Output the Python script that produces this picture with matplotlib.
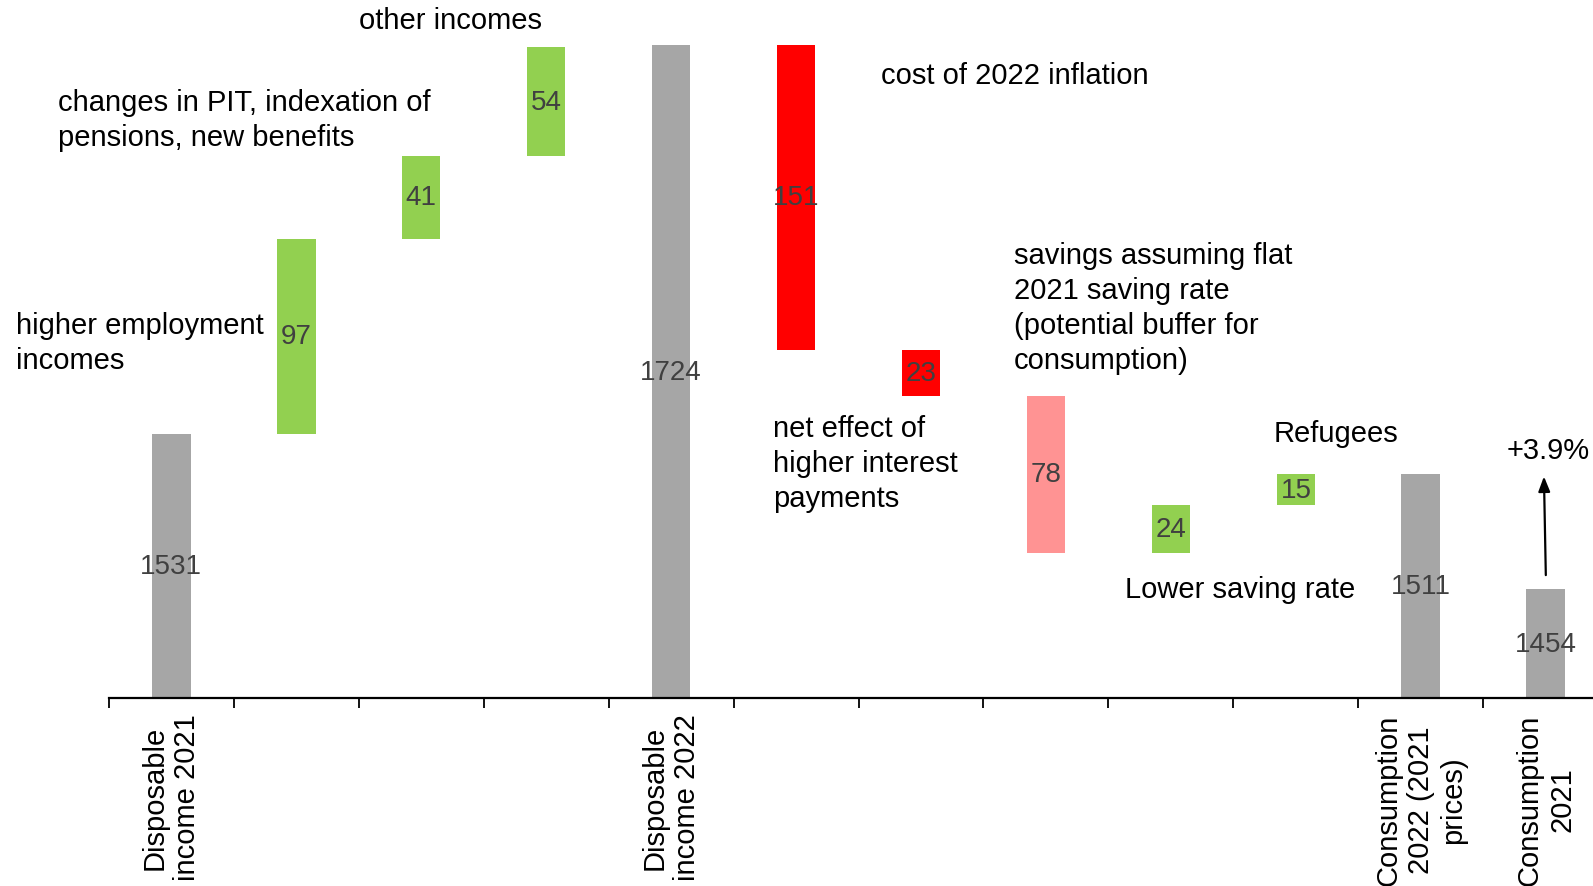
import matplotlib
matplotlib.use("Agg")
import matplotlib.pyplot as plt
import numpy as np

plt.rcParams['font.family'] = ['Liberation Sans', 'DejaVu Sans']

# Household income-to-consumption bridge (PLN bn)
categories = [
    "Disposable\nincome 2021", "", "", "",
    "Disposable\nincome 2022", "", "", "", "", "",
    "Consumption\n2022 (2021\nprices)", "Consumption\n2021",
]
values = [1531, 97, 41, 54, 1724, -151, -23, -78, 24, 15, 1511, 1454]
kinds = ["total", "step", "step", "step", "total", "step", "step", "step",
         "step", "step", "total", "total"]
bar_colors = ["#A6A6A6", "#92D050", "#92D050", "#92D050", "#A6A6A6",
              "#FF0000", "#FF0000", "#FF9393", "#92D050", "#92D050",
              "#A6A6A6", "#A6A6A6"]
growth_label = "+3.9%"

# Running totals for the floating bars
bottoms, heights = [], []
running = 0
for v, k in zip(values, kinds):
    if k == "total":
        bottoms.append(0)
        heights.append(v)
        running = v
    else:
        lo = running if v > 0 else running + v
        bottoms.append(lo)
        heights.append(abs(v))
        running += v

Y0 = 1400
fig = plt.figure(figsize=(15.93, 8.87), dpi=100)
ax = fig.add_axes([108.7 / 1593, 188 / 887, 1499.6 / 1593, 699 / 887])

x = np.arange(len(values))
for xi, b, h, c, k in zip(x, bottoms, heights, bar_colors, kinds):
    base = Y0 if k == "total" else b
    top = b + h
    ax.bar(xi, top - base, bottom=base, width=0.31, color=c,
           edgecolor="none", zorder=2)

# Value labels in the middle of each bar
for xi, b, h, v, k in zip(x, bottoms, heights, values, kinds):
    base = Y0 if k == "total" else b
    mid = (base + b + h) / 2
    ax.text(xi, mid, f"{abs(v)}", ha="center", va="center",
            fontsize=20, color="#404040", zorder=3)

ax.set_xlim(-0.5, 11.5)
ax.set_ylim(Y0, 1747)

for side in ["left", "right", "top"]:
    ax.spines[side].set_visible(False)
ax.spines["bottom"].set_linewidth(1.6)
ax.yaxis.set_visible(False)

ax.set_xticks(x)
ax.set_xticklabels(categories, rotation=90, ha="center", va="top",
                   multialignment="center", fontsize=21)
ax.tick_params(axis="x", which="major", length=0, pad=11)
ax.set_xticks(np.arange(-0.5, 11.6, 1.0), minor=True)
ax.tick_params(axis="x", which="minor", length=7.5, width=1.3,
               direction="out")

# Descriptive annotations
notes = [
    (1.503, 1736.6, "other incomes"),
    (-0.906, 1687, "changes in PIT, indexation of\npensions, new benefits"),
    (-1.242, 1576.4, "higher employment\nincomes"),
    (5.68, 1709.5, "cost of 2022 inflation"),
    (6.744, 1594, "savings assuming flat\n2021 saving rate\n(potential buffer for\nconsumption)"),
    (4.816, 1516.7, "net effect of\nhigher interest\npayments"),
    (8.825, 1531.6, "Refugees"),
    (7.632, 1454, "Lower saving rate"),
]
for nx, ny, txt in notes:
    ax.text(nx, ny, txt, ha="left", va="center", fontsize=21,
            color="black", clip_on=False, linespacing=1.32)

# Growth arrow from 2021 consumption towards 2022
ax.annotate("", xy=(10.985, values[10] - 1), xytext=(11.0, 1461),
            arrowprops=dict(arrowstyle="-|>,head_length=0.9,head_width=0.35",
                            color="black", lw=1.6, shrinkA=0, shrinkB=0))
ax.text(11.02, 1523, growth_label, ha="center", va="center", fontsize=21,
        color="black", clip_on=False)

fig.savefig("out.png", dpi=100)
